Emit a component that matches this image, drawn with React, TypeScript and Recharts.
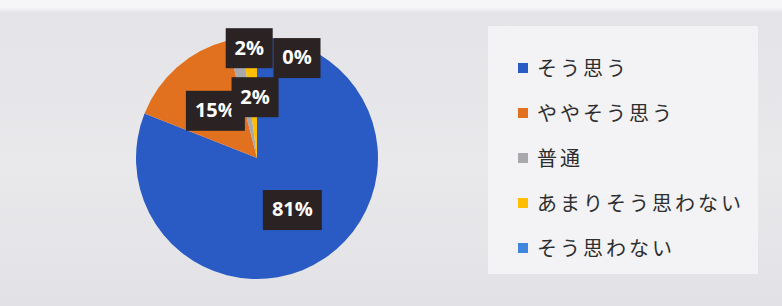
import { PieChart, Pie, Cell, Legend } from 'recharts';

const categories = ['そう思う', 'ややそう思う', '普通', 'あまりそう思わない', 'そう思わない'];
const shares = [81, 15, 2, 2, 0];
const shareLabels = ['81%', '15%', '2%', '2%', '0%'];

const colors = ['#2a5bc4', '#e2711f', '#a9a9ad', '#ffbf00', '#3f86df'];
// Excel pushed the crowded small labels apart; nudges from the default centre spot
const nudges: [number, number][] = [
  [0, 0],
  [0, 0],
  [4, -48],
  [2, 2],
  [40, -37],
];

const data = categories.map((name, i) => ({ name, value: shares[i], label: shareLabels[i] }));

const RAD = Math.PI / 180;

function renderLabel(props: any) {
  const { cx, cy, midAngle, outerRadius, index } = props;
  const r = outerRadius * 0.52;
  const [nx, ny] = nudges[index] || [0, 0];
  const x = cx + r * Math.cos(-midAngle * RAD) + nx;
  const y = cy + r * Math.sin(-midAngle * RAD) + ny;
  const text = data[index].label;
  const w = text.length * 12 + 23;
  const h = 40;
  return (
    <g key={'lbl' + index}>
      <rect x={x - w / 2} y={y - h / 2} width={w} height={h} fill="#2b2323" />
      <text
        x={x}
        y={y + 1}
        textAnchor="middle"
        dominantBaseline="middle"
        fill="#ffffff"
        fontFamily="'Open Sans', 'Noto Sans', sans-serif"
        fontWeight={700}
        fontSize={20}
      >
        {text}
      </text>
    </g>
  );
}

function LegendBox() {
  return (
    <div
      style={{
        width: 270,
        height: 248,
        background: '#f3f3f6',
        paddingTop: 19,
        boxSizing: 'border-box',
      }}
    >
      {data.map((d, i) => (
        <div
          key={d.name}
          style={{
            height: 45,
            display: 'flex',
            alignItems: 'center',
            paddingLeft: 30,
          }}
        >
          <span
            style={{
              display: 'inline-block',
              width: 10,
              height: 10,
              background: colors[i],
              marginRight: 9,
            }}
          />
          <span
            style={{
              fontFamily: "'Noto Sans CJK JP', sans-serif",
              fontSize: 20,
              letterSpacing: 3,
              color: '#2e2e2e',
              whiteSpace: 'nowrap',
            }}
          >
            {d.name}
          </span>
        </div>
      ))}
    </div>
  );
}

export default function App() {
  return (
    <div
      style={{
        position: 'absolute',
        left: 0,
        top: 0,
        width: 782,
        height: 306,
        background: 'linear-gradient(180deg, #f6f6f8 0px, #f6f6f8 7px, #e4e4e8 13px, #e9e9ec 55%, #e2e2e6 100%)',
      }}
    >
      <PieChart width={782} height={306} margin={{ top: 0, right: 0, bottom: 0, left: 0 }}>
        <Pie
          data={data}
          dataKey="value"
          nameKey="name"
          cx={257}
          cy={158}
          outerRadius={121}
          startAngle={90}
          endAngle={-270}
          stroke="none"
          labelLine={false}
          label={renderLabel}
          isAnimationActive={false}
        >
          {data.map((d, i) => (
            <Cell key={d.name} fill={colors[i]} />
          ))}
        </Pie>
        <Legend
          content={() => <LegendBox />}
          wrapperStyle={{ left: 488, top: 26, width: 270, height: 248 }}
        />
      </PieChart>
    </div>
  );
}
